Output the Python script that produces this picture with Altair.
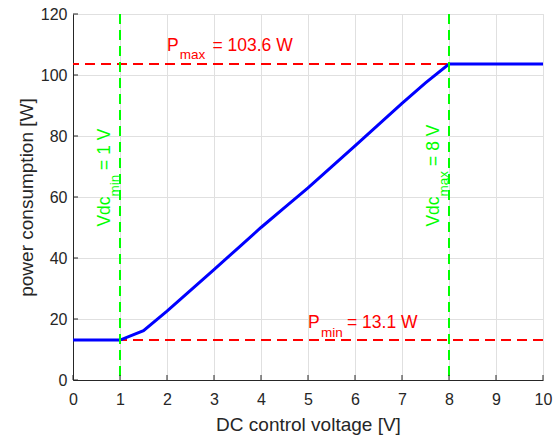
import altair as alt
import pandas as pd

# ---- data ----
voltage = [0, 1, 1.5, 2, 2.5, 3, 3.5, 4, 4.5, 5, 5.5, 6, 6.5, 7, 7.5, 8, 10]
power = [13.1, 13.1, 16.2, 22.6, 29.4, 36.2, 43.1, 50.0, 56.5, 63.0, 69.9, 76.8, 83.7, 90.7, 97.4, 103.6, 103.6]

p_min = 13.1
p_max = 103.6
vdc_min = 1
vdc_max = 8

x_ticks = [0, 1, 2, 3, 4, 5, 6, 7, 8, 9, 10]
y_ticks = [0, 20, 40, 60, 80, 100, 120]

# label anchor positions (data units)
pmax_label_pos = [2, 108]
pmin_label_pos = [5, 17]
vmin_label_pos = [1, 50.3]
vmax_label_pos = [8, 50.3]

FONT = "Liberation Sans"
DARK = "#262626"
RED = "#ff0000"
GREEN = "#00ff00"
BLUE = "#0000ff"

xs = alt.Scale(domain=[0, 10], nice=False, zero=False)
ys = alt.Scale(domain=[0, 120], nice=False, zero=False)

AX = alt.Axis(
    values=x_ticks, title="DC control voltage [V]", grid=True, gridColor="#e0e0e0",
    domainColor=DARK, ticks=False, tickSize=0, labelFont=FONT, labelFontSize=16,
    labelColor=DARK, labelPadding=11, labelFlush=False, labelOverlap=False,
    titleFont=FONT, titleFontSize=19,
    titleFontWeight="normal", titleColor=DARK, titleY=50, titleBaseline="alphabetic")
AY = alt.Axis(
    values=y_ticks, title="power consumption [W]", grid=True, gridColor="#e0e0e0",
    domainColor=DARK, ticks=False, tickSize=0, labelFont=FONT, labelFontSize=16,
    labelColor=DARK, labelPadding=6, labelFlush=False, labelOverlap=False,
    titleFont=FONT, titleFontSize=19,
    titleFontWeight="normal", titleColor=DARK, titleAngle=270, titleX=-41,
    titleY=183, titleAlign="center", titleBaseline="alphabetic")


def X():
    return alt.X("v:Q", scale=xs, axis=AX)


def Y():
    return alt.Y("p:Q", scale=ys, axis=AY)


curve = pd.DataFrame({"v": voltage, "p": power})

line = alt.Chart(curve).mark_line(color=BLUE, strokeWidth=3).encode(
    x=X(), y=Y(), order=alt.Order("v:Q"))

# inward ticks
xt = alt.Chart(pd.DataFrame({"v": x_ticks})).mark_rule(color=DARK, strokeWidth=1).encode(
    x=X(), y=alt.value(366), y2=alt.value(361))
yt = alt.Chart(pd.DataFrame({"p": y_ticks})).mark_rule(color=DARK, strokeWidth=1).encode(
    y=Y(), x=alt.value(0), x2=alt.value(5))

hlines = alt.Chart(pd.DataFrame({"p": [p_min, p_max]})).mark_rule(
    color=RED, strokeWidth=2, strokeDash=[10, 6]).encode(y=Y())
vlines = alt.Chart(pd.DataFrame({"v": [vdc_min, vdc_max]})).mark_rule(
    color=GREEN, strokeWidth=2, strokeDash=[10, 6]).encode(x=X())


def txt(pos, text, color, size, dx=0, dy=0, angle=0):
    return alt.Chart(pd.DataFrame({"v": [pos[0]], "p": [pos[1]]})).mark_text(
        text=text, color=color, font=FONT, fontSize=size, align="left",
        baseline="alphabetic", dx=dx, dy=dy, angle=angle).encode(x=X(), y=Y())


labels = [
    txt(pmax_label_pos, "P", RED, 17.5),
    txt(pmax_label_pos, "max", RED, 13.5, dx=12.8, dy=8.5),
    txt(pmax_label_pos, f"= {p_max} W", RED, 17.5, dx=45.4),
    txt(pmin_label_pos, "P", RED, 17.5),
    txt(pmin_label_pos, "min", RED, 13.5, dx=13.1, dy=8.5),
    txt(pmin_label_pos, f"= {p_min} W", RED, 17.5, dx=39),
    txt(vmin_label_pos, "Vdc", GREEN, 17.5, dy=-10, angle=270),
    txt(vmin_label_pos, "min", GREEN, 13.5, dx=30, dy=-1, angle=270),
    txt(vmin_label_pos, f"= {vdc_min} V", GREEN, 17.5, dx=56.7, dy=-10, angle=270),
    txt(vmax_label_pos, "Vdc", GREEN, 17.5, dy=-10, angle=270),
    txt(vmax_label_pos, "max", GREEN, 13.5, dx=30, dy=-1, angle=270),
    txt(vmax_label_pos, f"= {vdc_max} V", GREEN, 17.5, dx=60.7, dy=-10, angle=270),
]

chart = alt.layer(hlines, line, vlines, xt, yt, *labels).properties(
    width=470, height=366,
    autosize=alt.AutoSizeParams(type="none"),
    padding={"left": 73, "top": 14, "right": 17, "bottom": 55},
).configure_view(stroke="transparent").configure(background="white")

chart.save("out.html", embed_options={"renderer": "svg", "actions": False})
